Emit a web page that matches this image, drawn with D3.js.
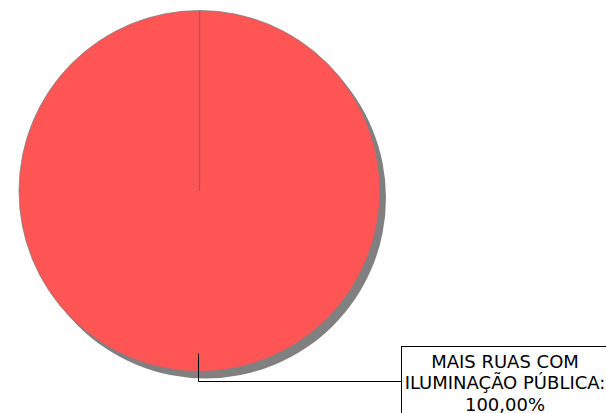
<!DOCTYPE html>
<html><head><meta charset="utf-8">
<script src="https://cdn.jsdelivr.net/npm/d3@7"></script>
<style>html,body{margin:0;padding:0;background:#fff;}svg{display:block;}</style>
</head><body>
<script>
const categories = ["MAIS RUAS COM ILUMINAÇÃO PÚBLICA"];
const values = [100];
const labelLines = ["MAIS RUAS COM", "ILUMINAÇÃO PÚBLICA:", "100,00%"];

const W = 606, H = 413;
const cx = 199.5, cy = 191, R = 180.5;
const svg = d3.select("body").append("svg").attr("width", W).attr("height", H);

const pie = d3.pie().sort(null).value(d => d)(values);
const arc = d3.arc().innerRadius(0).outerRadius(R);

// shadow
svg.append("g").attr("transform", `translate(${cx + 6},${cy + 7})`)
  .selectAll("path").data(pie).join("path")
  .attr("d", arc).attr("fill", "#808080");

const g = svg.append("g").attr("transform", `translate(${cx},${cy})`);
g.selectAll("path.slice").data(pie).join("path").attr("class", "slice")
  .attr("d", arc).attr("fill", "#ff5555").attr("stroke", "#7f7f7f").attr("stroke-width", 0.8);

// slice boundary line
pie.forEach(d => {
  const a = d.startAngle;
  g.append("line").attr("x1", 0).attr("y1", 0)
    .attr("x2", R * Math.sin(a)).attr("y2", -R * Math.cos(a))
    .attr("stroke", "#707070").attr("stroke-width", 1.2);
});

// leader line
const mid = (pie[0].startAngle + pie[0].endAngle) / 2;
const px = cx + 0.9 * R * Math.sin(mid);
const py = cy - 0.9 * R * Math.cos(mid);
const ly = 381.5, bx = 401.5;
svg.append("path")
  .attr("d", `M${Math.round(px) - 0.5},${py} L${Math.round(px) - 0.5},${ly} L${bx},${ly}`)
  .attr("fill", "none").attr("stroke", "#000").attr("stroke-width", 1);

// label box
svg.append("rect").attr("x", bx).attr("y", 346.5).attr("width", 220).attr("height", 90)
  .attr("fill", "#fff").attr("stroke", "#000").attr("stroke-width", 1);
const t = svg.append("text").attr("font-family", "DejaVu Sans").attr("font-size", 18)
  .attr("fill", "#000").attr("text-anchor", "middle");
labelLines.forEach((l, i) => {
  t.append("tspan").attr("x", 505).attr("y", 367.5 + i * 21.5).text(l);
});
</script>
</body></html>
